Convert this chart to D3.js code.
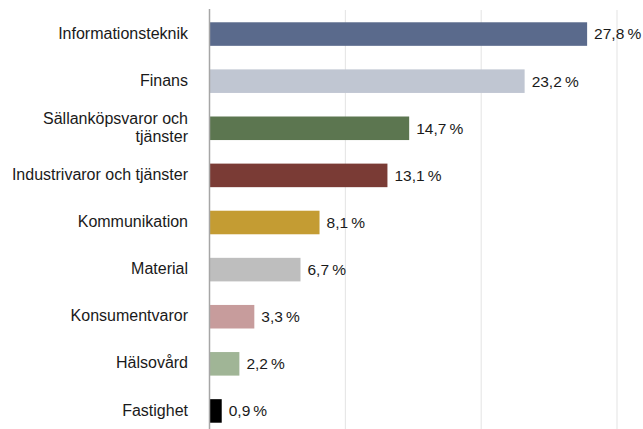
<!DOCTYPE html>
<html><head><meta charset="utf-8">
<script src="https://cdn.jsdelivr.net/npm/d3@7"></script>
<style>body{margin:0;background:#fff}svg{display:block}</style>
</head><body>
<svg id="c" width="643" height="429"></svg>
<script>
const categories = ["Informationsteknik","Finans","Sällanköpsvaror och tjänster","Industrivaror och tjänster","Kommunikation","Material","Konsumentvaror","Hälsovård","Fastighet"];
const values = [27.8,23.2,14.7,13.1,8.1,6.7,3.3,2.2,0.9];
const colors = ["#5a6a8c","#c0c6d2","#5c7650","#7a3b35","#c49c33","#bebebe","#c79c9c","#a0b596","#000000"];
const labelLines = [["Informationsteknik"],["Finans"],["Sällanköpsvaror och","tjänster"],["Industrivaror och tjänster"],["Kommunikation"],["Material"],["Konsumentvaror"],["Hälsovård"],["Fastighet"]];
const gridTicks = [10,20,30];

const svg = d3.select("#c");
const x = d3.scaleLinear().domain([0,30]).range([209.5,617]);
const y = d3.scaleBand().domain(categories).range([10.5,434.5]).paddingInner(0.5).paddingOuter(0.25);
const font = "'Liberation Sans', Arial, sans-serif";

svg.append("g").selectAll("line").data(gridTicks).join("line")
  .attr("x1",d=>x(d)).attr("x2",d=>x(d)).attr("y1",10).attr("y2",429)
  .attr("stroke","#e3e3e3").attr("stroke-width",1);

svg.append("g").selectAll("rect").data(categories).join("rect")
  .attr("x",x(0)).attr("y",d=>y(d)).attr("height",y.bandwidth())
  .attr("width",(d,i)=>x(values[i])-x(0)).attr("fill",(d,i)=>colors[i]);

svg.append("line").attr("x1",x(0)).attr("x2",x(0)).attr("y1",9).attr("y2",429)
  .attr("stroke","#a6a6a6").attr("stroke-width",1.5);

const lab = svg.append("g").selectAll("text").data(categories).join("text")
  .attr("text-anchor","end").attr("font-family",font).attr("font-size",16).attr("fill","#1a1a1a");
lab.each(function(d,i){
  const lines = labelLines[i];
  const cy = y(d)+y.bandwidth()/2;
  const lh = 18;
  const t = d3.select(this);
  lines.forEach((l,j)=>{
    t.append("tspan").attr("x",188).attr("y",cy - 1 + (j-(lines.length-1)/2)*lh).attr("dy","0.35em").text(l);
  });
});

svg.append("g").selectAll("text").data(categories).join("text")
  .attr("x",(d,i)=>x(values[i])+7).attr("y",d=>y(d)+y.bandwidth()/2).attr("dy","0.35em")
  .attr("font-family",font).attr("font-size",15.5).attr("fill","#1a1a1a")
  .text((d,i)=>d3.format(".1f")(values[i]).replace(".",",")+"\u2009%");
</script>
</body></html>
